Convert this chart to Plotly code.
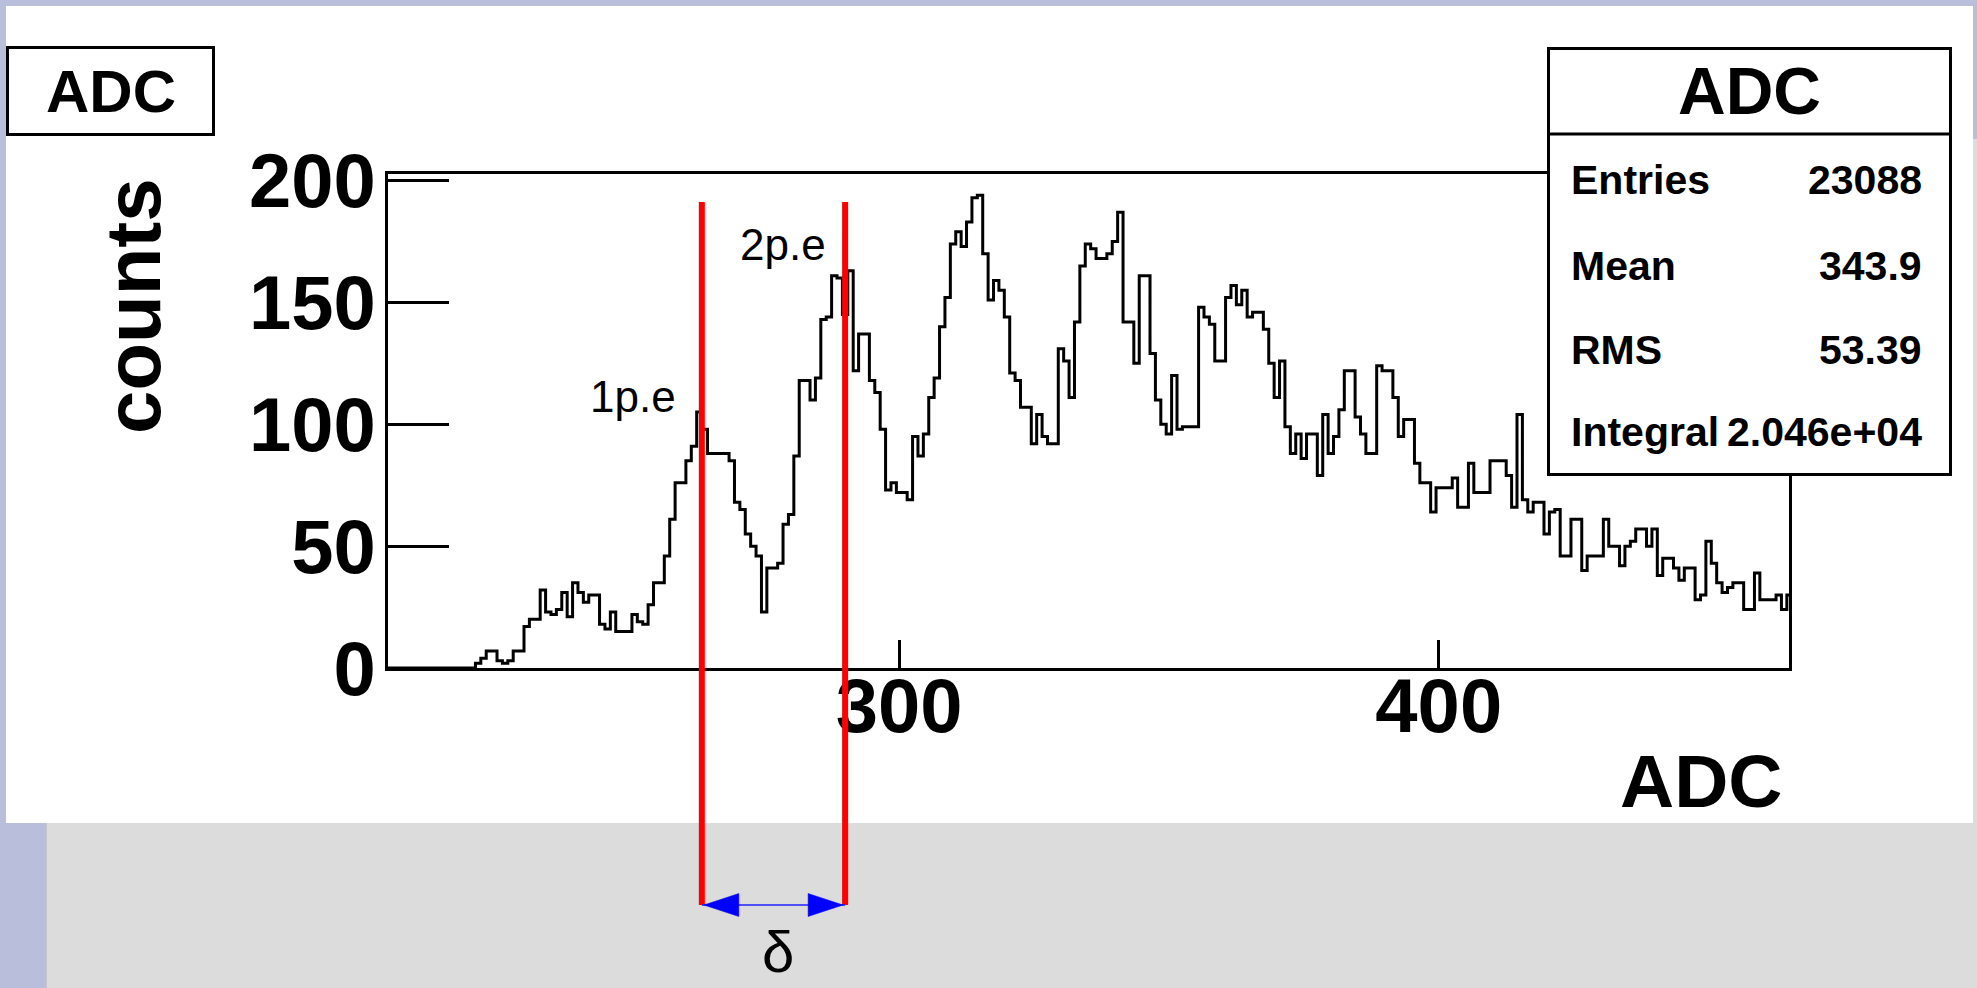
import plotly.graph_objects as go

# ---- histogram data: ADC bin centres and counts per bin ----
adc_centers = list(range(205, 466))
counts = [
    0, 0, 0, 0, 0, 0, 0, 0, 0, 0,            # 205-214
    0, 0, 0, 0, 0, 0, 0, 2, 4, 7,            # 215-224
    7, 3, 2, 3, 7, 7, 17, 20, 20, 32,        # 225-234
    23, 22, 24, 31, 21, 35, 31, 27, 30, 30,  # 235-244
    18, 16, 23, 15, 15, 15, 22, 19, 18, 26,  # 245-254
    35, 35, 46, 61, 76, 76, 85, 91, 105, 98,  # 255-264
    88, 88, 88, 88, 85, 68, 65, 55, 50, 46,  # 265-274
    23, 41, 41, 43, 59, 63, 87, 118, 118, 110,  # 275-284
    119, 143, 144, 161, 160, 145, 163, 122, 137, 137,  # 285-294
    118, 113, 98, 73, 76, 72, 72, 69, 95, 87,  # 295-304
    96, 111, 119, 140, 152, 174, 179, 173, 183, 193,  # 305-314
    194, 170, 151, 159, 155, 144, 121, 118, 107, 107,  # 315-324
    92, 104, 95, 92, 92, 131, 126, 111, 142, 165,  # 325-334
    174, 172, 168, 168, 170, 175, 187, 142, 142, 125,  # 335-344
    161, 161, 129, 110, 100, 96, 120, 98, 99, 99,  # 345-354
    99, 148, 144, 141, 126, 126, 152, 157, 149, 155,  # 355-364
    144, 146, 146, 139, 125, 111, 126, 99, 88, 96,  # 365-374
    86, 96, 96, 79, 104, 88, 95, 106, 122, 122,  # 375-384
    103, 96, 88, 88, 124, 122, 122, 111, 95, 102,  # 385-394
    102, 84, 76, 76, 64, 74, 74, 74, 78, 66,  # 395-404
    66, 84, 72, 72, 72, 85, 85, 85, 79, 66,  # 405-414
    104, 69, 64, 68, 68, 55, 64, 65, 46, 46,  # 415-424
    61, 61, 40, 46, 46, 46, 61, 50, 50, 42,  # 425-434
    50, 52, 57, 57, 50, 57, 38, 45, 45, 41,  # 435-444
    36, 41, 41, 28, 30, 52, 43, 35, 31, 33,  # 445-454
    35, 35, 24, 24, 39, 28, 28, 28, 30, 24,  # 455-464
    30,                                      # 465
]

x_range = [205.3, 464.9]
y_range = [0, 202.7]
y_ticks = [0, 50, 100, 150, 200]
x_ticks = [300, 400]

stats_title = "ADC"
stats_labels = ["Entries", "Mean", "RMS", "Integral"]
stats_values = ["23088", "343.9", "53.39", "2.046e+04"]

# photo-electron peak markers (ADC position of each red line)
pe_names = ["1p.e", "2p.e"]
pe_positions = [263.45, 290.0]

# ---- canvas geometry (pixels) ----
W, H = 1977, 988
ML, MR, MT, MB = 388, 188, 174, 320
PW, PH = W - ML - MR, H - MT - MB


def fx(px):
    return (px - ML) / PW


def fy(py):
    return (H - MB - py) / PH


def data_px(x):
    return ML + (x - x_range[0]) / (x_range[1] - x_range[0]) * PW


FONT = "Liberation Sans"
LAV = "#b9bedb"
GREY = "#dcdcdc"

# step outline: left edges + closing right edge
edges = [c - 0.5 for c in adc_centers] + [adc_centers[-1] + 0.5]
steps = counts + [counts[-1]]

fig = go.Figure()
fig.add_trace(go.Scatter(
    x=edges, y=steps, mode="lines", line_shape="hv",
    line=dict(color="black", width=3), hoverinfo="skip", showlegend=False,
))

shapes = []
# page background panels
shapes.append(dict(type="rect", xref="paper", yref="paper", layer="below",
                   x0=fx(6), x1=fx(1973), y0=fy(823), y1=fy(6),
                   fillcolor="white", line=dict(width=0)))
shapes.append(dict(type="rect", xref="paper", yref="paper", layer="below",
                   x0=fx(47), x1=fx(1990), y0=fy(1000), y1=fy(823),
                   fillcolor=GREY, line=dict(width=0)))
shapes.append(dict(type="rect", xref="paper", yref="paper", layer="below",
                   x0=fx(1973), x1=fx(1990), y0=fy(823), y1=fy(139),
                   fillcolor=GREY, line=dict(width=0)))
shapes.append(dict(type="line", xref="paper", yref="paper", layer="below",
                   x0=fx(46.5), x1=fx(46.5), y0=fy(1000), y1=fy(823),
                   line=dict(color="#c6c6c6", width=1)))

# histogram title box
shapes.append(dict(type="rect", xref="paper", yref="paper",
                   x0=fx(7.5), x1=fx(213.5), y0=fy(134.5), y1=fy(47.5),
                   fillcolor="white", line=dict(color="black", width=3)))
# statistics box
shapes.append(dict(type="rect", xref="paper", yref="paper",
                   x0=fx(1548.5), x1=fx(1950.5), y0=fy(474.5), y1=fy(48.5),
                   fillcolor="white", line=dict(color="black", width=3)))
shapes.append(dict(type="line", xref="paper", yref="paper",
                   x0=fx(1548.5), x1=fx(1950.5), y0=fy(134), y1=fy(134),
                   line=dict(color="black", width=3)))

# red peak markers
for xp in pe_positions:
    shapes.append(dict(type="line", xref="x", yref="paper",
                       x0=xp, x1=xp, y0=fy(905), y1=fy(202),
                       line=dict(color="#ff0000", width=6)))

# blue double arrow between the two peaks
arrow_y = 905
x_a, x_b = data_px(pe_positions[0]), data_px(pe_positions[1])
shapes.append(dict(type="line", xref="x", yref="paper",
                   x0=pe_positions[0], x1=pe_positions[1],
                   y0=fy(arrow_y), y1=fy(arrow_y),
                   line=dict(color="#2020ff", width=1.5)))
head_len, head_half = 35, 11.5
for tip, base in [(x_a + 2, x_a + 2 + head_len), (x_b - 2, x_b - 2 - head_len)]:
    path = "M {:.5f},{:.5f} L {:.5f},{:.5f} L {:.5f},{:.5f} Z".format(
        fx(tip), fy(arrow_y),
        fx(base), fy(arrow_y - head_half),
        fx(base), fy(arrow_y + head_half))
    shapes.append(dict(type="path", xref="paper", yref="paper", path=path,
                       fillcolor="#0000ff", line=dict(color="#0000ff", width=0.5)))

annotations = []


def txt(text, x, y, size, bold=False, xanchor="center", angle=0, color="black"):
    annotations.append(dict(
        text=text, x=fx(x), y=fy(y), xref="paper", yref="paper",
        xanchor=xanchor, yanchor="middle", showarrow=False, textangle=angle,
        font=dict(family=FONT, size=size, color=color,
                  weight="bold" if bold else "normal"),
    ))


txt("ADC", 110.5, 91, 60, bold=True)
txt(stats_title, 1749.5, 91, 66, bold=True)
row_y = [180, 266, 350, 432]
for lab, val, yy in zip(stats_labels, stats_values, row_y):
    txt(lab, 1569, yy, 41, bold=True, xanchor="left")
    txt(val, 1924, yy, 41, bold=True, xanchor="right")

txt("counts", 133, 306, 78, bold=True, angle=-90)
txt("ADC", 1785, 781, 75, bold=True, xanchor="right")
txt(pe_names[0], 632.5, 396, 44)
txt(pe_names[1], 783, 244, 44)
txt("\u03b4", 778, 951, 58)

tick_font = dict(family=FONT, size=76, color="black", weight="bold")

fig.update_layout(
    width=W, height=H,
    margin=dict(l=ML, r=MR, t=MT, b=MB, pad=0),
    paper_bgcolor=LAV, plot_bgcolor="white",
    showlegend=False,
    shapes=shapes, annotations=annotations,
    xaxis=dict(
        range=x_range, tickmode="array", tickvals=x_ticks,
        ticktext=[str(v) for v in x_ticks],
        ticks="inside", ticklen=28, tickwidth=3, tickcolor="black",
        showline=True, linecolor="black", linewidth=3, mirror=True,
        showgrid=False, zeroline=False, ticklabelstandoff=-30,
        tickfont=tick_font,
    ),
    yaxis=dict(
        range=y_range, tickmode="array", tickvals=y_ticks,
        ticktext=[str(v) for v in y_ticks],
        ticks="inside", ticklen=61, tickwidth=3, tickcolor="black",
        showline=True, linecolor="black", linewidth=3, mirror=True,
        showgrid=False, zeroline=False, ticklabelstandoff=-6,
        tickfont=tick_font,
    ),
)

fig.write_html("out.html", config={"displayModeBar": False})
